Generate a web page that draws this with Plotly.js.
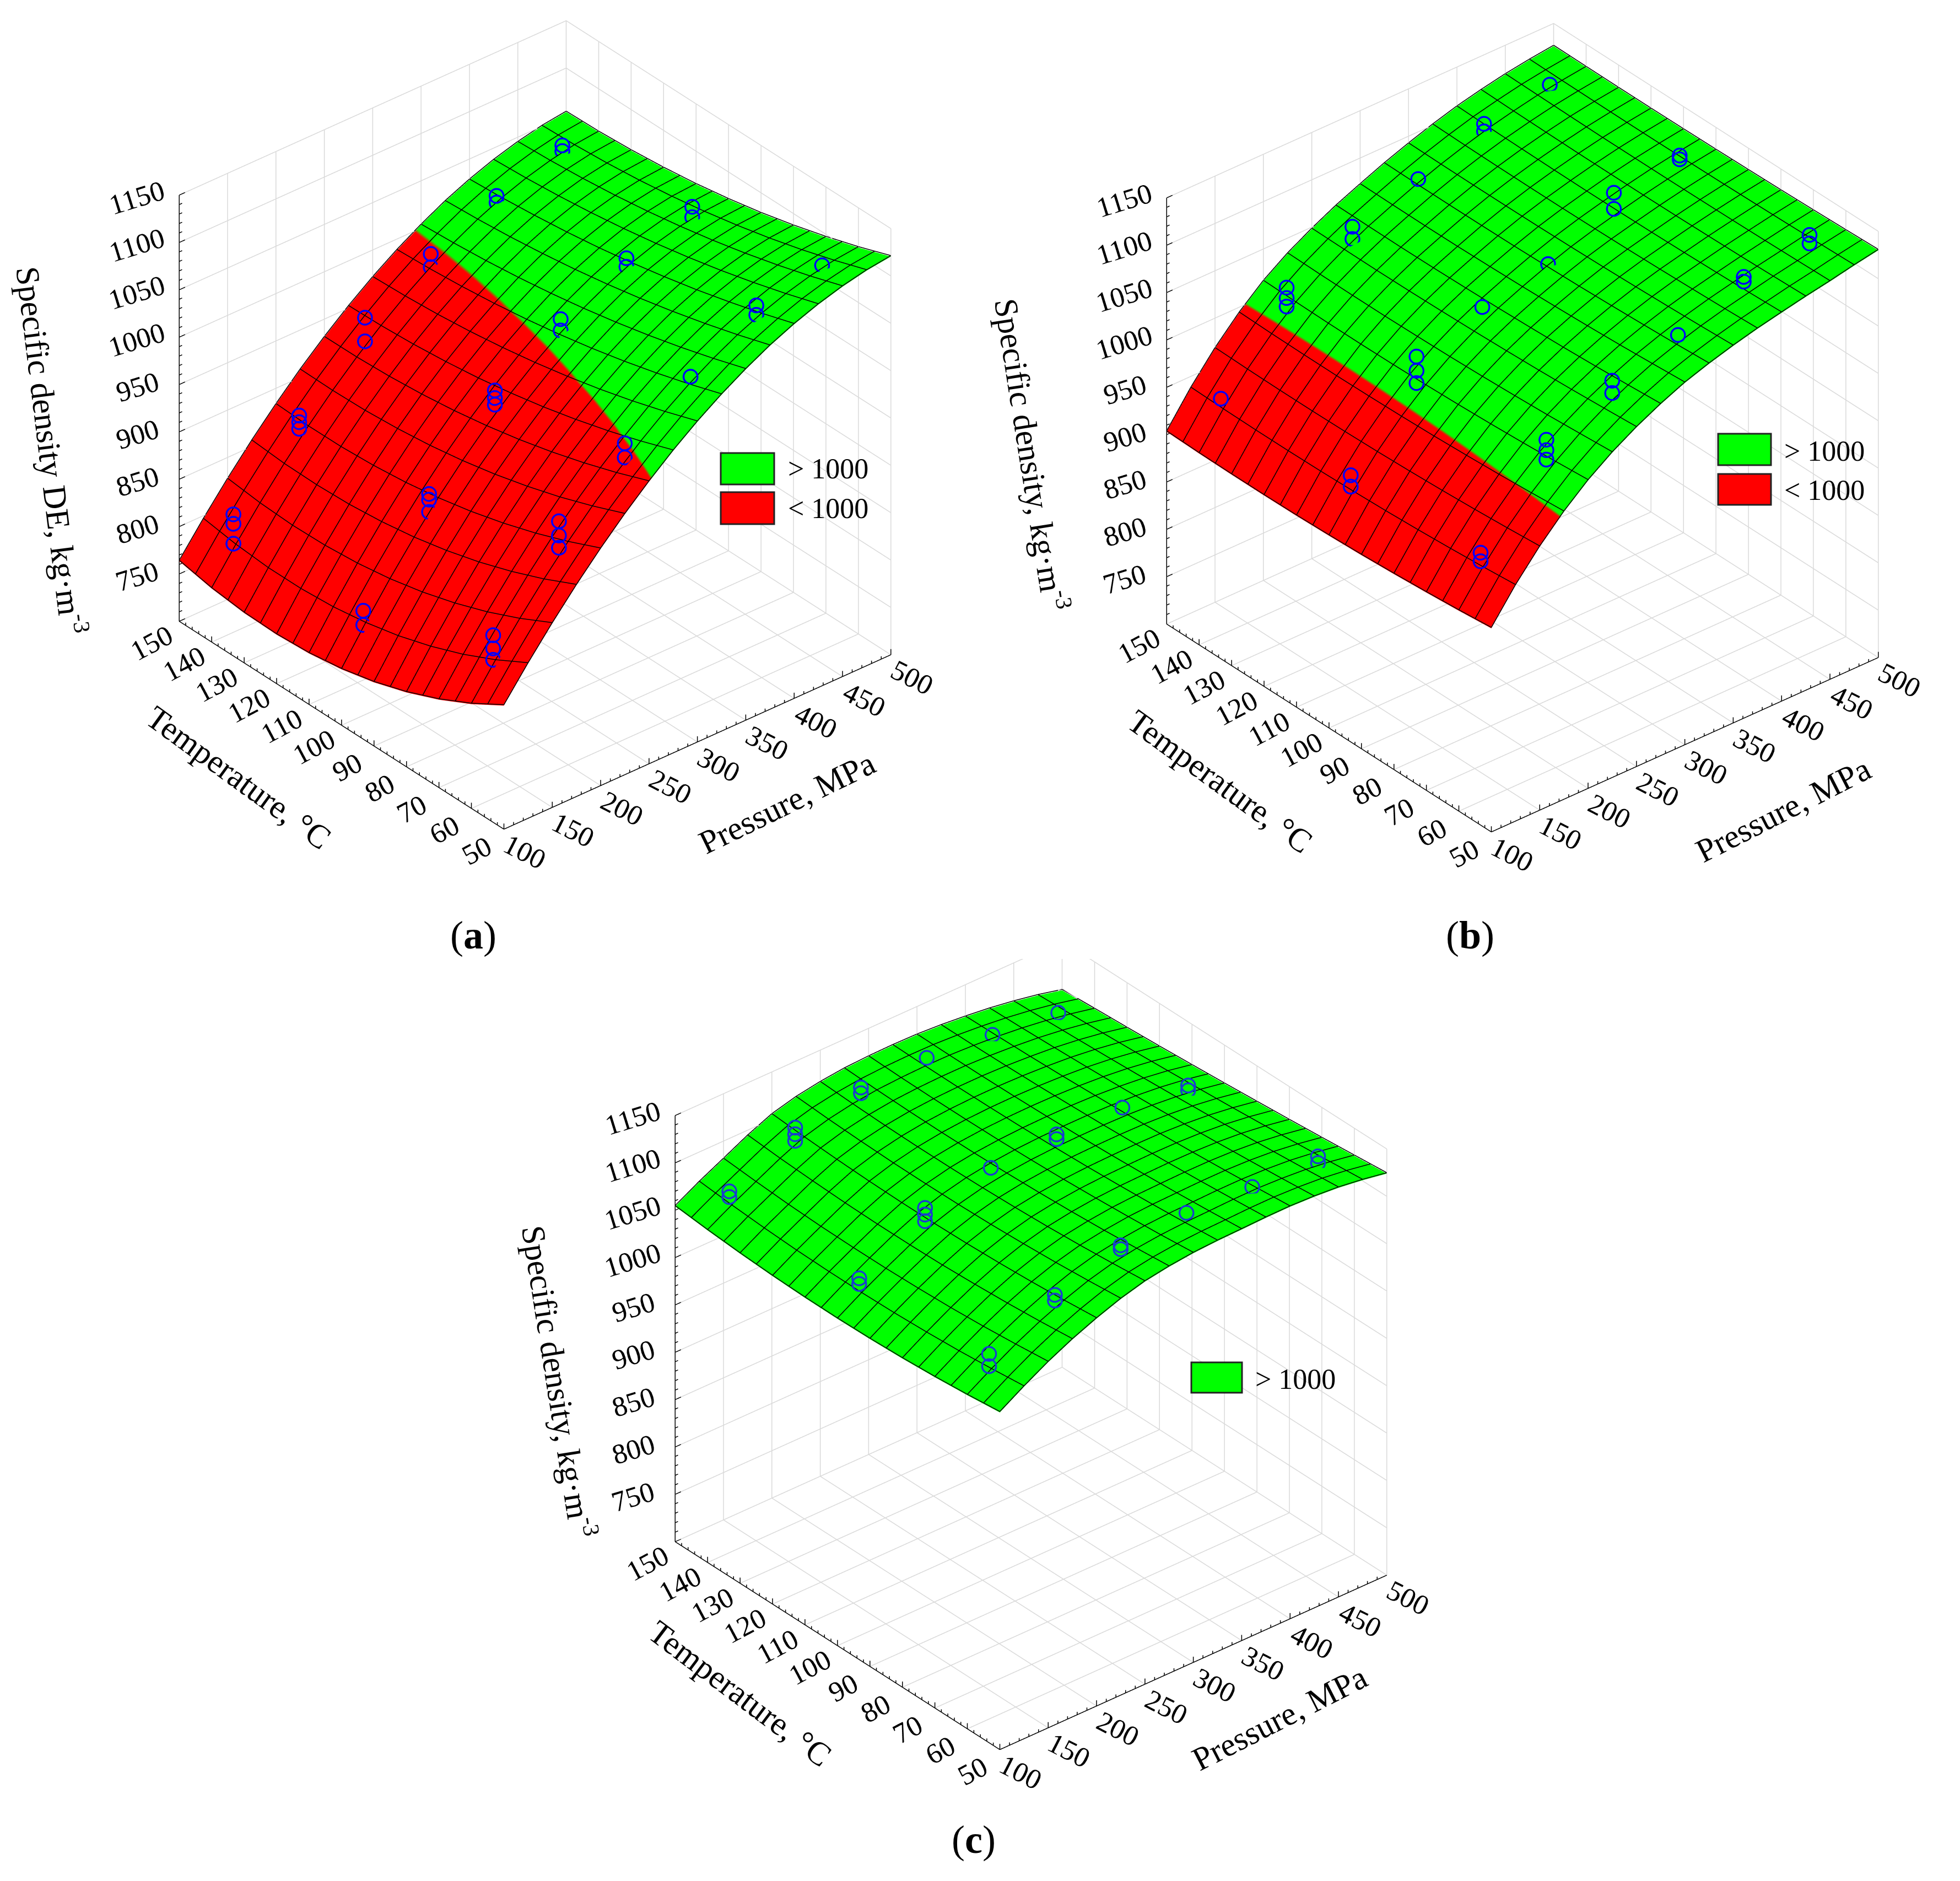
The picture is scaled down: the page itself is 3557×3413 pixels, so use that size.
<!DOCTYPE html>
<html><head><meta charset="utf-8">
<script src="https://cdn.plot.ly/plotly-3.0.1.min.js"></script>
<style>html,body{margin:0;padding:0;background:#fff}#plot{width:3557px;height:3413px}</style>
</head><body><div id="plot"></div>
<script>
const pressure=[100,125,150,175,200,225,250,275,300,325,350,375,400,425,450,475,500];
const temperature=[50,60,70,80,90,100,110,120,130,140,150];
const xMajor=[100,150,200,250,300,350,400,450,500];
const yMajor=[50,60,70,80,90,100,110,120,130,140,150];
const zMajor=[700,750,800,850,900,950,1000,1050,1100,1150];
const densityA=[
[830.5,863.3,894.1,923,949.9,974.9,997.8,1018.9,1038,1055.1,1070.3,1083.7,1094.9,1104.2,1111.6,1117.1,1120.5],
[810.1,844.5,876.7,906.8,934.9,960.9,984.6,1006.4,1026.1,1043.6,1059.1,1072.6,1083.8,1093,1100.1,1105.2,1108],
[792.8,828.3,861.6,892.8,921.7,948.4,972.9,995.2,1015.3,1033.2,1048.9,1062.5,1073.8,1082.8,1089.7,1094.4,1096.9],
[778.5,814.9,849,880.8,910.4,937.7,962.6,985.3,1005.7,1023.8,1039.7,1053.4,1064.6,1073.6,1080.3,1084.8,1087],
[767.2,804.1,838.7,871,900.9,928.5,953.7,976.6,997.3,1015.5,1031.5,1045.2,1056.5,1065.4,1072,1076.4,1078.3],
[759,796.1,830.8,863.2,893.3,921,946.3,969.3,990,1008.3,1024.3,1038,1049.3,1058.2,1064.8,1069.1,1071],
[753.8,790.7,825.3,857.6,887.5,915.1,940.3,963.2,983.9,1002.1,1018.1,1031.8,1043,1052,1058.6,1063,1064.9],
[751.7,788.1,822.2,854,883.6,910.9,935.8,958.5,978.9,997,1012.9,1026.6,1037.8,1046.8,1053.5,1058,1060.2],
[752.6,788.1,821.4,852.6,881.5,908.2,932.7,955,975.1,993,1008.7,1022.3,1033.6,1042.6,1049.5,1054.2,1056.7],
[756.5,790.9,823.1,853.2,881.3,907.3,931,952.8,972.5,990,1005.5,1019,1030.2,1039.4,1046.5,1051.6,1054.4],
[763.5,796.3,827.1,856,882.9,907.9,930.8,951.9,971,988.1,1003.3,1016.7,1027.9,1037.2,1044.6,1050.1,1053.5]];
const densityB=[
[915,948.7,978,1003.4,1025,1042.9,1058,1070.9,1082,1090.6,1098,1104.5,1110,1115.3,1120,1125.3,1130],
[911.6,945.6,975.2,1000.7,1022.3,1040.4,1055.6,1068.5,1079.6,1088.5,1096.3,1103,1108.7,1114.3,1119.2,1124.4,1128.9],
[908.8,943,972.8,998.3,1020,1038.1,1053.4,1066.3,1077.4,1086.8,1094.9,1101.8,1107.7,1113.4,1118.5,1123.5,1127.9],
[906.4,940.8,970.8,996.4,1018.1,1036.3,1051.6,1064.5,1075.6,1085.3,1093.7,1100.8,1106.9,1112.8,1118,1122.9,1127.1],
[904.4,939,969.2,994.8,1016.6,1034.8,1050.2,1063.1,1074.2,1084,1092.7,1100,1106.3,1112.3,1117.7,1122.4,1126.5],
[903,937.7,968,993.7,1015.5,1033.7,1049,1061.9,1073,1083.1,1092,1099.5,1106,1112.1,1117.5,1122.1,1126],
[902,936.8,967.2,993,1014.8,1033,1048.2,1061.1,1072.2,1082.4,1091.5,1099.2,1105.9,1112.1,1117.5,1121.9,1125.7],
[901.6,936.4,966.8,992.6,1014.5,1032.5,1047.6,1060.5,1071.6,1082.1,1091.3,1099.2,1106.1,1112.2,1117.5,1121.9,1125.5],
[901.6,936.4,966.8,992.7,1014.6,1032.5,1047.4,1060.3,1071.4,1082,1091.3,1099.4,1106.5,1112.6,1117.9,1122.1,1125.5],
[902,936.8,967.2,993.1,1015.1,1032.8,1047.6,1060.5,1071.6,1082.1,1091.5,1099.8,1107.1,1113.1,1118.4,1122.4,1125.7],
[903,937.7,968,994,1016,1033.5,1048,1060.9,1072,1082.6,1092,1100.5,1108,1113.9,1119,1122.9,1126]];
const densityC=[
[1056,1071.6,1086,1098.4,1109,1118.1,1125,1129.2,1132,1133.4,1134,1134.8,1135,1134,1132,1128.5,1124],
[1052.2,1067.9,1082.3,1094.9,1105.7,1114.8,1121.6,1125.9,1128.6,1130.1,1130.8,1131.6,1131.7,1130.6,1128.6,1125.2,1120.7],
[1049.2,1064.8,1079.2,1092.1,1103.1,1112,1118.7,1122.9,1125.8,1127.3,1128,1128.6,1128.6,1127.6,1125.5,1122,1117.5],
[1047,1062.6,1076.9,1090,1101.1,1109.9,1116.4,1120.6,1123.4,1124.9,1125.6,1126.1,1125.9,1124.8,1122.6,1119.1,1114.5],
[1045.6,1061.1,1075.4,1088.4,1099.7,1108.3,1114.7,1118.8,1121.4,1122.9,1123.6,1123.9,1123.6,1122.2,1119.9,1116.3,1111.7],
[1045,1060.4,1074.5,1087.7,1099,1107.4,1113.5,1117.5,1120,1121.4,1122,1122.1,1121.5,1120,1117.5,1113.8,1109],
[1045.2,1060.5,1074.4,1087.6,1098.9,1107.1,1112.9,1116.7,1119,1120.3,1120.8,1120.7,1119.8,1118,1115.3,1111.5,1106.5],
[1046.2,1061.2,1074.9,1088.2,1099.5,1107.3,1112.8,1116.4,1118.6,1119.7,1120,1119.5,1118.3,1116.4,1113.4,1109.3,1104.1],
[1048,1062.8,1076.2,1089.5,1100.7,1108.2,1113.3,1116.7,1118.6,1119.5,1119.6,1118.8,1117.2,1115,1111.7,1107.4,1102],
[1050.6,1065.1,1078.3,1091.3,1102.5,1109.6,1114.4,1117.5,1119,1119.7,1119.6,1118.4,1116.5,1113.8,1110.2,1105.6,1100.1],
[1054,1068.2,1081,1094,1105,1111.7,1116,1118.8,1120,1120.4,1120,1118.4,1116,1113,1109,1104.1,1098]];
const pointsA=[
[122,140,[825,815,794]],[122,100,[811,796]],[122,60,[873,859,847]],
[190,140,[898,891,884]],[190,100,[903,897,884]],[190,60,[962,947,934]],
[258,140,[970,945]],[258,100,[981,973,966]],[258,60,[1013,998]],
[326,140,[1006,992]],[326,100,[1025,1013]],[326,60,[1052]],
[394,140,[1036,1029]],[394,100,[1058,1049]],[394,60,[1096,1086]],
[462,140,[1058,1052]],[462,100,[1081,1070]],[462,60,[1107]]];
const pointsB=[
[122,140,[950]],[122,100,[957,945]],[122,60,[963,954]],
[190,140,[1036,1025,1016]],[190,100,[1051,1036,1023]],[190,60,[1051,1040,1030]],
[258,140,[1069,1056]],[258,100,[1072]],[258,60,[1082,1069]],
[326,140,[1088]],[326,100,[1086]],[326,60,[1099]],
[394,140,[1115,1107]],[394,100,[1130,1113]],[394,60,[1129,1124]],
[462,140,[1125]],[462,100,[1138,1134]],[462,60,[1142,1133]]];
const pointsC=[
[122,140,[1082,1076]],[122,100,[1078,1072]],[122,60,[1086,1073]],
[190,140,[1118,1111,1104]],[190,100,[1121,1114,1107]],[190,60,[1117,1111]],
[258,140,[1129,1123]],[258,100,[1132]],[258,60,[1138,1134]],
[326,140,[1129]],[326,100,[1136,1131]],[326,60,[1141]],
[394,140,[1122]],[394,100,[1133]],[394,60,[1137]],
[462,140,[1114]],[462,100,[1125,1120]],[462,60,[1138,1131]]];
const W=3557,H=3413,FONT='"Liberation Serif",serif';
const GRID='#d9d9d9';
const eyeBase=[-1.084,-1.292,1.074];
const ASPECT=1.118;
function span(a,b,s){const r=[];for(let v=a;v<=b+1e-6;v+=s)r.push(v);return r;}
function segTrace(scene,fill,color,width){
  const X=[],Y=[],Z=[];
  fill((a,b)=>{X.push(a[0],b[0],null);Y.push(a[1],b[1],null);Z.push(a[2],b[2],null);});
  return {type:'scatter3d',mode:'lines',scene,x:X,y:Y,z:Z,line:{color,width},hoverinfo:'skip',showlegend:false};
}
function gridTrace(scene){
  return segTrace(scene,seg=>{
    for(const x of xMajor){seg([x,150,700],[x,150,1150]);seg([x,50,700],[x,150,700]);}
    for(const y of yMajor){seg([500,y,700],[500,y,1150]);seg([100,y,700],[500,y,700]);}
    for(const z of zMajor){seg([100,150,z],[500,150,z]);seg([500,50,z],[500,150,z]);}
  },GRID,3);
}
function axisTrace(scene){
  return segTrace(scene,seg=>{
    seg([100,50,700],[500,50,700]);seg([100,50,700],[100,150,700]);seg([100,150,700],[100,150,1150]);
    for(const x of span(100,500,10))seg([x,50,700],[x,50,700+(xMajor.includes(x)?6:3)]);
    for(const y of span(50,150,2))seg([100,y,700],[100,y,700+(yMajor.includes(y)?6:3)]);
    for(const z of span(700,1150,10))seg([100,150,z],[100+(zMajor.includes(z)?6:3),150,z]);
  },'#000',3);
}
const LIFT=1;
function meshTrace(scene,Z){
  const X=[],Y=[],V=[];
  pressure.forEach((p,j)=>{temperature.forEach((t,i)=>{X.push(p);Y.push(t);V.push(Z[i][j]+LIFT);});X.push(null);Y.push(null);V.push(null);});
  temperature.forEach((t,i)=>{
    pressure.forEach((p,j)=>{X.push(p);Y.push(t);V.push(Z[i][j]+LIFT);});X.push(null);Y.push(null);V.push(null);
    if(i<temperature.length-1){pressure.forEach((p,j)=>{X.push(p);Y.push(t+5);V.push((Z[i][j]+Z[i+1][j])/2+LIFT);});X.push(null);Y.push(null);V.push(null);}
  });
  return {type:'scatter3d',mode:'lines',scene,x:X,y:Y,z:V,line:{color:'#000',width:3},hoverinfo:'skip',showlegend:false};
}
function surfaceTrace(scene,z){
  return {type:'surface',scene,x:pressure,y:temperature,z,cmin:800,cmax:1200,cauto:false,showscale:false,
    colorscale:[[0,'#ff0000'],[0.5,'#ff0000'],[0.5,'#00ff00'],[1,'#00ff00']],
    lighting:{ambient:1,diffuse:0,specular:0,fresnel:0,roughness:1},hoverinfo:'skip'};
}
function pointTrace(scene,pts,color){
  const X=[],Y=[],Z=[];
  for(const [p,t,zs] of pts)for(const z of zs){X.push(p);Y.push(t);Z.push(z);}
  return {type:'scatter3d',mode:'markers',scene,x:X,y:Y,z:Z,hoverinfo:'skip',showlegend:false,
    marker:{symbol:'circle-open',size:16,color,line:{color,width:3}}};
}
// the axis ranges run a little past the box so the labels clear it
const PAD={x:0.05,y:0.046,z:0.022};
function axis(range,vals,angle,pad){
  const d=(range[1]-range[0])*pad;
  return {title:{text:''},range:[range[0]-d,range[1]+d],autorange:false,
    tickmode:'array',tickvals:vals,ticktext:vals.map(String),
    ticks:'',tickangle:angle,tickfont:{family:FONT,size:25,color:'#000'},
    showgrid:false,zeroline:false,showline:false,
    showbackground:false,showspikes:false};
}
const r=[0.766,-0.643,0],u=[0.345,0.411,0.843];
function scene(dom,shift){
  const s=(dom[3]-dom[2])/2;
  const c=i=>-shift[0]/s*r[i]+shift[1]/s*u[i];
  return {domain:{x:[dom[0]/W,dom[1]/W],y:[1-dom[3]/H,1-dom[2]/H]},bgcolor:'rgba(0,0,0,0)',
    aspectmode:'manual',aspectratio:{x:ASPECT*(1+2*PAD.x),y:ASPECT*(1+2*PAD.y),z:ASPECT*(1+2*PAD.z)},
    camera:{projection:{type:'orthographic'},up:{x:0,y:0,z:1},
      center:{x:c(0),y:c(1),z:c(2)},
      eye:{x:eyeBase[0]+c(0),y:eyeBase[1]+c(1),z:eyeBase[2]+c(2)}},
    xaxis:axis([100,500],xMajor,27,PAD.x),
    yaxis:axis([50,150],yMajor,-28,PAD.y),
    zaxis:axis([700,1150],zMajor.filter(v=>v>700),-17,PAD.z)};
}
const rect=(x0,y0,x1,y1,fill)=>({type:'rect',xref:'paper',yref:'paper',x0:x0/W,x1:x1/W,y0:1-y0/H,y1:1-y1/H,fillcolor:fill,line:{color:'#222',width:3},layer:'above'});
const note=(text,x,y,size)=>({text,xref:'paper',yref:'paper',x:x/W,y:1-y/H,xanchor:'left',yanchor:'middle',showarrow:false,font:{family:FONT,size,color:'#000'}});
const title=(text,x,y,angle)=>({text,xref:'paper',yref:'paper',x:x/W,y:1-y/H,xanchor:'center',yanchor:'middle',textangle:angle,showarrow:false,font:{family:FONT,size:60,color:'#000'}});
function panel(s,Z,pts,c){return [gridTrace(s),surfaceTrace(s,Z),meshTrace(s,Z),axisTrace(s),pointTrace(s,pts,c)];}
const data=[...panel('scene',densityA,pointsA,'#0000ff'),...panel('scene2',densityB,pointsB,'#0000ff'),...panel('scene3',densityC,pointsC,'#1a3cd0')];
const layout={width:W,height:H,margin:{l:0,r:0,t:0,b:0},paper_bgcolor:'#fff',showlegend:false,hovermode:false,
 scene:scene([0,1780,0,1640],[81,-49]),
 scene2:scene([1770,3557,0,1640],[99.5,-44]),
 scene3:scene([1000,2750,1740,3380],[-4,-119]),
 shapes:[rect(1308,822,1405,879,'#00ff00'),rect(1308,893,1405,951,'#ff0000'),
         rect(3118,787,3214,844,'#00ff00'),rect(3118,860,3214,916,'#ff0000'),
         rect(2162,2472,2254,2527,'#00ff00')],
 annotations:[note('&gt; 1000',1428,850,52),note('&lt; 1000',1428,922,52),
   note('&gt; 1000',3236,818,52),note('&lt; 1000',3236,890,52),note('&gt; 1000',2276,2502,52),
   note('(<b>a</b>)',815,1697,72),note('(<b>b</b>)',2622,1697,72),note('(<b>c</b>)',1725,3338,72),
   title('Specific density DE, kg·m<sup>-3</sup>',95,817,83),title('Temperature, °C',433,1411,36),title('Pressure, MPa',1428,1457,-26),
   title('Specific density, kg·m<sup>-3</sup>',1874,824,81),title('Temperature, °C',2214,1418,36),title('Pressure, MPa',3236,1470,-27),
   title('Specific density, kg·m<sup>-3</sup>',1016,2506,81),title('Temperature, °C',1343,3073,37),title('Pressure, MPa',2322,3118,-27)]};
setTimeout(()=>{Plotly.newPlot('plot',data,layout,{displayModeBar:false,responsive:false});},30);
</script></body></html>
